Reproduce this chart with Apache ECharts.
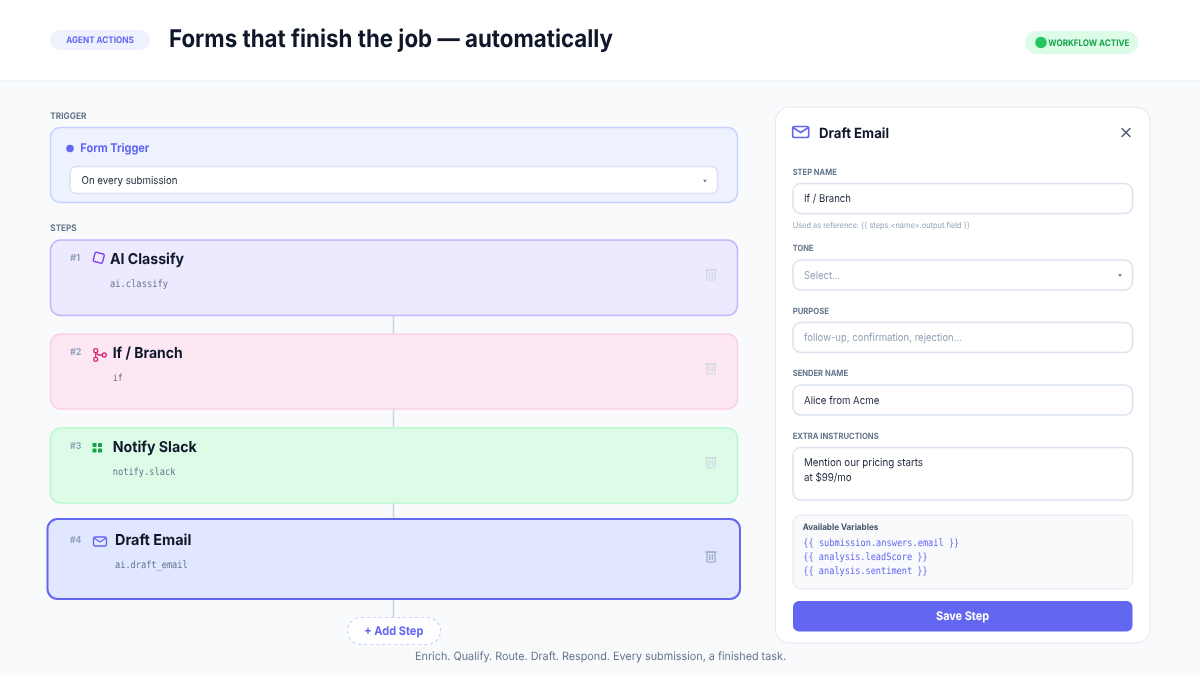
<!DOCTYPE html>
<html>
<head>
<meta charset="utf-8">
<title>Forms that finish the job</title>
<style>
	html, body { margin: 0; padding: 0; background: #f8fafc; }
	#main { width: 1200px; height: 675px; }
</style>
<script src="https://cdn.jsdelivr.net/npm/echarts@6/dist/echarts.min.js"></script>
</head>
<body>
<div id="main"></div>
<script>
// texts
var pageTitle = 'Forms that finish the job — automatically';
var badgeText = 'AGENT ACTIONS';
var statusText = 'WORKFLOW ACTIVE';
var footerText = 'Enrich. Qualify. Route. Draft. Respond. Every submission, a finished task.';
var stepNumbers = ['#1', '#2', '#3', '#4'];
var stepTitles = ['AI Classify', 'If / Branch', 'Notify Slack', 'Draft Email'];
var stepCodes = ['ai.classify', 'if', 'notify.slack', 'ai.draft_email'];
var fieldLabels = ['STEP NAME', 'TONE', 'PURPOSE', 'SENDER NAME', 'EXTRA INSTRUCTIONS'];
var fieldValues = ['If / Branch', 'Select...', 'follow-up, confirmation, rejection...', 'Alice from Acme'];
var extraLines = ['Mention our pricing starts', 'at $99/mo'];
var variableLines = ['{{ submission.answers.email }}', '{{ analysis.leadScore }}', '{{ analysis.sentiment }}'];

var SANS = 'Inter, "Noto Sans", sans-serif';
var MONO = '"DejaVu Sans Mono", monospace';
var INDIGO = '#6366f1';
var els = [];
var measure = document.createElement('canvas').getContext('2d');
measure.textRendering = 'geometricPrecision';

function box(x, y, w, h, r, fill, stroke, lineWidth, dash) {
	els.push({
		type: 'rect',
		shape: { x: x, y: y, width: w, height: h, r: r },
		style: { fill: fill, stroke: stroke || null, lineWidth: lineWidth || 0, lineDash: dash || null }
	});
}
// the reference text has tight letter spacing, so fit it to the width seen there
function label(s, x, y, size, weight, color, width, align, family) {
	var font = weight + ' ' + size + 'px ' + (family || SANS);
	measure.font = font;
	var sx = width / measure.measureText(s).width;
	var ty = y + size * 0.07;
	els.push({
		type: 'text',
		originX: x, originY: ty, scaleX: sx,
		style: {
			text: s, x: x, y: ty, fill: color, font: font,
			textAlign: align || 'left', textVerticalAlign: 'middle'
		}
	});
}
function dot(x, y, r, color) {
	els.push({ type: 'circle', shape: { cx: x, cy: y, r: r }, style: { fill: color } });
}
function line(x1, y1, x2, y2, color, w) {
	els.push({ type: 'line', shape: { x1: x1, y1: y1, x2: x2, y2: y2 }, style: { stroke: color, lineWidth: w, lineCap: 'round' } });
}
function polyline(points, color, w) {
	els.push({ type: 'polyline', shape: { points: points }, style: { fill: null, stroke: color, lineWidth: w, lineJoin: 'round', lineCap: 'round' } });
}
function mailIcon(x, y, w, h, color, lw) {
	box(x, y, w, h, 2, 'transparent', color, lw);
	polyline([[x + 0.8, y + 1.2], [x + w / 2, y + h * 0.55], [x + w - 0.8, y + 1.2]], color, lw);
}
function trashIcon(cx, cy, color) {
	line(cx - 5.5, cy - 5, cx + 5.5, cy - 5, color, 1.1);
	box(cx - 4, cy - 5, 8, 10, 0.5, 'transparent', color, 1.1);
	line(cx - 1.3, cy - 2.5, cx - 1.3, cy + 2.5, color, 1.1);
	line(cx + 1.3, cy - 2.5, cx + 1.3, cy + 2.5, color, 1.1);
}
function arrowDown(cx, cy) {
	els.push({
		type: 'polygon',
		shape: { points: [[cx - 1.8, cy - 1.2], [cx + 1.8, cy - 1.2], [cx, cy + 1.5]] },
		style: { fill: '#64748b' }
	});
}
function field(y, h) {
	box(793, y, 339.5, h, 8, '#ffffff', '#dbe3ee', 1.5);
}

// page and header
box(0, 0, 1200, 675, 0, '#f8fafc');
box(0, 0, 1200, 80, 0, '#ffffff');
line(0, 81, 1200, 81, '#f1f5f9', 1.5);
box(50, 30, 100, 20, 10, '#eef2ff');
label(badgeText, 100, 39.5, 9, 700, INDIGO, 67.5, 'center');
label(pageTitle, 169, 37.5, 24.5, 700, '#0f172a', 444);
box(1025, 31, 113, 23, 11.5, '#dcfce7');
dot(1041, 42.5, 5.8, '#22c55e');
label(statusText, 1048.3, 42.5, 9, 700, '#16a34a', 81);

// trigger
label('TRIGGER', 50.3, 115.5, 9, 700, '#64748b', 36);
box(50.5, 127.5, 687, 75, 10, '#eef2ff', '#c7d2fe', 1.5);
dot(70, 148.5, 3.8, INDIGO);
label('Form Trigger', 80.3, 147.5, 12, 700, INDIGO, 69);
box(70, 166.5, 647.5, 27, 6, '#ffffff', '#d9e0ef', 1.5);
label('On every submission', 81.5, 180, 10.8, 400, '#1e293b', 96);
arrowDown(705, 181);

// steps
label('STEPS', 50.3, 228, 9, 700, '#64748b', 26.4);
[[316, 334], [409, 428], [503, 518], [599, 617]].forEach(function (c) {
	line(393.5, c[0], 393.5, c[1], '#cbd5e1', 1.5);
});
var stepBoxes = [
	{ x: 50.5, y: 240, w: 687, h: 75.5, fill: '#ede9fe', stroke: '#c4b5fd', lw: 1.5, tx: 110, ty: 258, cy: 284, trash: 275 },
	{ x: 50.5, y: 334, w: 687, h: 75, fill: '#fce7f3', stroke: '#fbcfe8', lw: 1.5, tx: 112.7, ty: 352, cy: 377.5, trash: 369 },
	{ x: 50.5, y: 428, w: 687, h: 75, fill: '#dcfce7', stroke: '#bbf7d0', lw: 1.5, tx: 112.7, ty: 446, cy: 471.5, trash: 463 },
	{ x: 47.5, y: 519, w: 692.5, h: 80, fill: '#e0e7ff', stroke: INDIGO, lw: 2, tx: 115, ty: 539.5, cy: 565, trash: 557 }
];
var numberWidths = [10, 11.4, 11.4, 11.4];
var titleWidths = [74, 70, 84, 76.3];
var codeWidths = [58, 10, 62.7, 72.7];
stepBoxes.forEach(function (b, i) {
	box(b.x, b.y, b.w, b.h, 10, b.fill, b.stroke, b.lw);
	label(stepNumbers[i], 70, b.ty - 0.5, 9.5, 700, '#94a3b8', numberWidths[i]);
	label(stepTitles[i], b.tx, b.ty, 15, 700, '#0f172a', titleWidths[i]);
	label(stepCodes[i], b.tx, b.cy, 10, 400, '#64748b', codeWidths[i], 'left', MONO);
	trashIcon(711, b.trash, i === 3 ? '#94a3b8' : '#cbd5e1');
});

// step icons
els.push({
	type: 'rect',
	shape: { x: 94, y: 253, width: 9.5, height: 9.5, r: 1.5 },
	originX: 98.75, originY: 257.75, rotation: -0.26,
	style: { fill: 'transparent', stroke: '#7c3aed', lineWidth: 1.4 }
});
polyline([[95.7, 352.7], [95.7, 357.3]], '#db2777', 1.3);
polyline([[96.6, 352.6], [98, 355], [102.3, 355]], '#db2777', 1.3);
[[95.7, 350.7], [95.7, 359.3], [104.3, 355]].forEach(function (p) {
	els.push({ type: 'circle', shape: { cx: p[0], cy: p[1], r: 2 }, style: { fill: 'transparent', stroke: '#db2777', lineWidth: 1.3 } });
});
[[92.5, 443], [98, 443], [92.5, 448.5], [98, 448.5]].forEach(function (p) {
	box(p[0], p[1], 4, 4, 0.4, '#16a34a');
});
mailIcon(93.5, 537, 13, 9, INDIGO, 1.3);

// add step button and footer
box(347.5, 617.5, 93, 27, 13.5, '#ffffff', '#c7d2fe', 1.2, [3, 3]);
label('+ Add Step', 393.8, 631, 12, 700, INDIGO, 59, 'center');
label(footerText, 600.5, 655.5, 11.5, 400, '#64748b', 371, 'center');

// side panel
box(775.5, 107, 374.5, 536, 14, '#ffffff', '#e2e8f0', 1);
mailIcon(792.7, 126.5, 16, 11, INDIGO, 1.7);
label(stepTitles[3], 819, 132.5, 14, 700, '#0f172a', 70);
line(1122, 128.5, 1130, 136.5, '#475569', 1.4);
line(1130, 128.5, 1122, 136.5, '#475569', 1.4);

var labelRows = [172, 248, 311, 373, 436];
var labelWidths = [44, 20.7, 36.3, 55.3, 86];
fieldLabels.forEach(function (s, i) {
	label(s, 792.7, labelRows[i], 8.5, 700, '#64748b', labelWidths[i]);
});
var valueColors = ['#1e293b', '#94a3b8', '#94a3b8', '#1e293b'];
var valueWidths = [47, 36.3, 158, 75.3];
var inputRows = [183.5, 260, 322.5, 385];
inputRows.forEach(function (y, i) {
	field(y, 30);
	label(fieldValues[i], 804, y + 15, 10.8, 400, valueColors[i], valueWidths[i]);
});
arrowDown(1120, 275.5);
label('Used as reference: {{ steps.<name>.output.field }}', 792.7, 225, 8.2, 400, '#94a3b8', 177.3);

field(447.5, 52.5);
label(extraLines[0], 804, 462.5, 10.8, 400, '#1e293b', 119);
label(extraLines[1], 804, 477.5, 10.8, 400, '#1e293b', 47.7);

box(793, 515, 339.5, 74, 8, '#f8fafc', '#e2e8f0', 1);
label('Available Variables', 802.7, 526.5, 8.8, 700, '#475569', 75.6);
var variableWidths = [156, 124.4, 124.4];
variableLines.forEach(function (s, i) {
	label(s, 803.3, 543 + i * 13.7, 10, 400, INDIGO, variableWidths[i], 'left', MONO);
});

box(793, 601, 339.5, 30.5, 6, INDIGO);
label('Save Step', 962.5, 615.5, 12, 700, '#ffffff', 53, 'center');

var myChart = echarts.init(document.querySelector('#main'));
var option = {
	animation: false,
	backgroundColor: '#f8fafc',
	graphic: { elements: els }
};
myChart.setOption(option);
// unhinted glyphs are closer to the reference: the canvas only exists after the first draw
myChart.getDom().querySelector('canvas').getContext('2d').textRendering = 'geometricPrecision';
myChart.clear();
myChart.setOption(option);
</script>
</body>
</html>
